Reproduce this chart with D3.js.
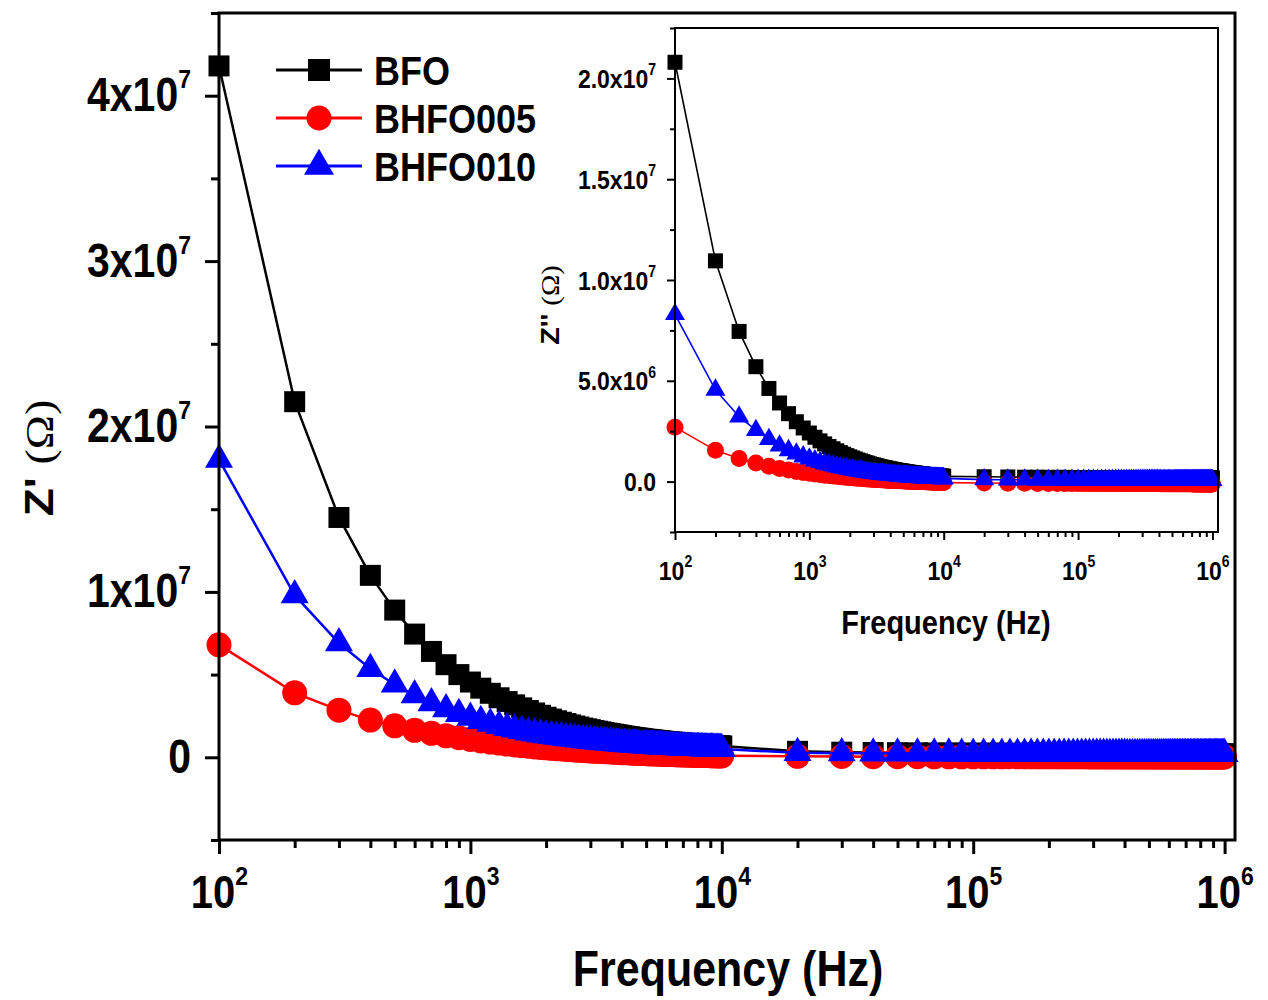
<!DOCTYPE html>
<html><head><meta charset="utf-8">
<script src="https://cdn.jsdelivr.net/npm/d3@7"></script>
<style>
body{margin:0;background:#fff}
text{font-family:"Liberation Sans",Arial,sans-serif;font-weight:bold;fill:#000}
</style>
</head><body>
<svg id="c" width="1268" height="1000"></svg>
<script>
// Frequencies (Hz)
const freq = [
100,200,300,400,500,600,700,800,900,1000,
1100,1200,1300,1400,1500,1600,1700,1800,1900,2000,
2100,2200,2300,2400,2500,2600,2700,2800,2900,3000,
3100,3200,3300,3400,3500,3600,3700,3800,3900,4000,
4100,4200,4300,4400,4500,4600,4700,4800,4900,5000,
5100,5200,5300,5400,5500,5600,5700,5800,5900,6000,
6100,6200,6300,6400,6500,6600,6700,6800,6900,7000,
7100,7200,7300,7400,7500,7600,7700,7800,7900,8000,
8100,8200,8300,8400,8500,8600,8700,8800,8900,9000,
9100,9200,9300,9400,9500,9600,9700,9800,9900,10000,
20000,30000,40000,50000,60000,70000,80000,90000,100000,
110000,120000,130000,140000,150000,160000,170000,180000,190000,200000,
210000,220000,230000,240000,250000,260000,270000,280000,290000,300000,
310000,320000,330000,340000,350000,360000,370000,380000,390000,400000,
410000,420000,430000,440000,450000,460000,470000,480000,490000,500000,
510000,520000,530000,540000,550000,560000,570000,580000,590000,600000,
610000,620000,630000,640000,650000,660000,670000,680000,690000,700000,
710000,720000,730000,740000,750000,760000,770000,780000,790000,800000,
810000,820000,830000,840000,850000,860000,870000,880000,890000,900000,
910000,920000,930000,940000,950000,960000,970000,980000,990000,1000000];

// Values in units of 1e4 Ohm
const UNIT = 1e4;
const seriesNames = ["BFO","BHFO005","BHFO010"];
const seriesColors = ["#000000","#ff0000","#0000ff"];
const seriesShapes = ["square","circle","triangle"];

// Z' (main plot)
const zReBFO = [
4180,2150,1450,1100,890,745,640,560,500,455,
418,387,360,337,317,299,283,268,254,242,
231,221,212,204,196,189,183,177,172,167,
162,158,154,150,146,143,140,137,134,131,
128,126,124,121,119,117,115,113,111,109,
108,106,105,103,102,100,99,98,96,95,
94,93,92,91,90,89,88,87,86,85,
84,84,83,82,81,81,80,79,79,78,
77,77,76,76,75,74,74,73,73,72,
72,71,71,70,70,69,69,69,68,68,
36,31,29,28,27,26,26,25,25,
25,25,25,24,24,24,24,24,24,24,
24,24,23,23,23,23,23,23,23,23,
23,23,23,23,23,22,22,22,22,22,
22,22,22,22,22,22,22,22,22,22,
22,21,21,21,21,21,21,21,21,21,
21,21,21,21,21,21,21,21,21,21,
21,21,20,20,20,20,20,20,20,20,
20,20,20,20,20,20,20,20,20,20,
20,20,20,20,20,20,20,20,20,20];
const zReBHFO005 = [
680,390,285,225,190,163,145,130,118,108,
99,92,86,80,75,71,67,63,60,57,
54,52,50,48,46,44,42,41,39,38,
37,36,35,34,33,32,31,30,29,28,
28,27,26,26,25,24,24,23,23,22,
22,21,21,20,20,20,19,19,18,18,
18,17,17,17,16,16,16,15,15,15,
15,14,14,14,14,13,13,13,13,12,
12,12,12,12,11,11,11,11,11,10,
10,10,10,10,10,9,9,9,9,9,
6,5,4,4,4,3,3,3,3,
3,3,3,3,3,3,3,3,3,3,
3,3,3,3,3,3,3,3,2,2,
2,2,2,2,2,2,2,2,2,2,
2,2,2,2,2,2,2,2,2,2,
2,2,2,2,2,2,2,2,2,2,
2,2,2,2,2,2,2,2,2,2,
2,2,2,2,2,2,2,2,2,2,
2,2,2,2,2,2,2,2,2,2,
2,2,2,2,2,2,2,2,2,2];
const zReBHFO010 = [
1800,980,690,535,440,375,328,291,262,239,
220,204,190,178,168,159,151,145,139,134,
129,125,121,117,114,111,108,105,102,100,
98,96,94,92,90,88,87,85,84,82,
81,80,79,78,77,76,75,74,73,72,
71,70,70,69,68,68,67,66,66,65,
65,64,64,63,63,62,62,61,61,60,
60,59,59,59,58,58,57,57,57,56,
56,56,55,55,55,54,54,54,53,53,
53,53,52,52,52,52,51,51,51,50,
27,25,24,24,23,23,23,22,22,
22,22,22,22,22,22,22,22,22,22,
22,22,22,22,22,22,22,22,22,22,
22,22,22,22,22,22,22,22,22,22,
21,21,21,21,21,21,21,21,21,21,
21,21,21,21,21,21,21,21,21,21,
21,21,21,21,21,21,21,21,21,21,
20,20,20,20,20,20,20,20,20,20,
20,20,20,20,20,20,20,20,20,20,
20,20,20,20,20,20,20,20,20,20];

// Z'' (inset)
const zImBFO = [
2080,1095,745,570,462,390,337,297,266,241,
220,202,187,174,163,153,144,136,129,123,
117,112,107,103,99,95,92,88,85,83,
80,78,75,73,71,69,68,66,64,63,
61,60,59,57,56,55,54,53,52,51,
50,49,48,47,46,46,45,44,43,43,
42,41,41,40,39,39,38,38,37,37,
36,36,35,35,34,34,33,33,33,32,
32,31,31,31,30,30,30,29,29,29,
28,28,28,27,27,27,27,26,26,26,
24,23,22,22,21,21,21,20,20,
20,20,20,20,20,20,20,20,20,20,
20,20,20,20,20,20,20,20,20,20,
20,20,20,20,20,20,20,20,20,20,
19,19,19,19,19,19,19,19,19,19,
19,19,19,19,19,19,19,19,19,19,
19,19,19,19,19,19,19,19,19,19,
18,18,18,18,18,18,18,18,18,18,
18,18,18,18,18,18,18,18,18,18,
18,18,18,18,18,18,18,18,18,18];
const zImBHFO005 = [
270,155,115,92,76,65,57,50,45,41,
38,35,32,30,28,26,24,23,21,20,
19,18,17,16,15,14,13,13,12,11,
11,10,10,9,9,8,8,7,7,7,
6,6,6,5,5,5,4,4,4,4,
3,3,3,3,2,2,2,2,2,1,
1,1,1,1,1,0,0,0,0,0,
0,0,-1,-1,-1,-1,-1,-1,-2,-2,
-2,-2,-2,-2,-2,-3,-3,-3,-3,-3,
-3,-3,-4,-4,-4,-4,-4,-4,-5,-5,
-7,-8,-8,-9,-9,-9,-10,-10,-10,
-10,-10,-10,-10,-10,-10,-10,-10,-10,-10,
-10,-10,-10,-10,-10,-10,-10,-10,-10,-10,
-10,-10,-10,-10,-10,-10,-10,-10,-10,-10,
-11,-11,-11,-11,-11,-11,-11,-11,-11,-11,
-11,-11,-11,-11,-11,-11,-11,-11,-11,-11,
-11,-11,-11,-11,-11,-11,-11,-11,-11,-11,
-12,-12,-12,-12,-12,-12,-12,-12,-12,-12,
-12,-12,-12,-12,-12,-12,-12,-12,-12,-12,
-12,-12,-12,-12,-12,-12,-12,-12,-12,-12];
const zImBHFO010 = [
830,455,322,255,210,178,155,138,124,113,
104,96,89,84,79,74,70,67,64,61,
58,56,54,52,50,48,47,45,44,43,
41,40,39,38,37,36,35,35,34,33,
32,32,31,30,30,29,29,28,28,27,
27,26,26,25,25,25,24,24,24,23,
23,23,22,22,22,22,21,21,21,21,
20,20,20,20,20,19,19,19,19,19,
19,18,18,18,18,18,18,18,17,17,
17,17,17,17,17,17,16,16,16,16,
10,9,9,8,8,8,8,8,8,
8,8,8,8,8,8,8,8,8,8,
8,8,8,8,8,8,8,8,8,8,
8,8,8,8,8,8,8,8,8,8,
7,7,7,7,7,7,7,7,7,7,
7,7,7,7,7,7,7,7,7,7,
7,7,7,7,7,7,7,7,7,7,
7,7,7,7,7,7,7,7,7,7,
7,7,7,7,7,7,7,7,7,7,
7,7,7,7,7,7,7,7,7,7];

// Axis ticks and labels
const xDomain = [100, 1.1e6];
const xTicks = [1e2,1e3,1e4,1e5,1e6];
const xTickLabels = ["10^2","10^3","10^4","10^5","10^6"];
const xMinor = [200,300,400,500,600,700,800,900,2000,3000,4000,5000,6000,7000,8000,9000,
  20000,30000,40000,50000,60000,70000,80000,90000,200000,300000,400000,500000,600000,700000,800000,900000];
const mainYDomain = [-5e6, 4.5e7];
const mainYTicks = [0,1e7,2e7,3e7,4e7];
const mainYLabels = ["0","1x10^7","2x10^7","3x10^7","4x10^7"];
const mainYMinor = [-5e6,5e6,1.5e7,2.5e7,3.5e7,4.5e7];
const insetYDomain = [-2.5e6, 2.25e7];
const insetYTicks = [0,5e6,1e7,1.5e7,2e7];
const insetYLabels = ["0.0","5.0x10^6","1.0x10^7","1.5x10^7","2.0x10^7"];
const insetYMinor = [-2.5e6,2.5e6,7.5e6,1.25e7,1.75e7,2.25e7];

const SY = 1.15; // vertical text stretch of the reference
const svg = d3.select("#c");

function symPath(shape, m){
  if(shape==="square") return d3.symbol(d3.symbolSquare, m.sq*m.sq)();
  if(shape==="circle") return d3.symbol(d3.symbolCircle, Math.PI*m.r*m.r)();
  return d3.symbol(d3.symbolTriangle, Math.sqrt(3)/4*m.tri*m.tri)();
}
function rich(sel, str, size, supSize, supDy){
  const parts = str.split("^");
  sel.text(null).attr("font-size", size);
  sel.append("tspan").text(parts[0]);
  if(parts.length>1) sel.append("tspan").attr("font-size", supSize).attr("dy", supDy).text(parts[1]);
}

function panel(cfg){
  const x = d3.scaleLog().domain(xDomain).range([cfg.l, cfg.r]);
  const y = d3.scaleLinear().domain(cfg.yDomain).range([cfg.b, cfg.t]);
  const g = svg.append("g");
  g.append("rect").attr("x",cfg.l).attr("y",cfg.t).attr("width",cfg.r-cfg.l).attr("height",cfg.b-cfg.t)
    .attr("fill","#fff");
  cfg.series.forEach((vals, k) => {
    const pts = freq.map((f,i)=>[f, vals[i]*UNIT]);
    g.append("path").datum(pts)
      .attr("d", d3.line().x(d=>x(d[0])).y(d=>y(d[1])))
      .attr("fill","none").attr("stroke",seriesColors[k]).attr("stroke-width",cfg.lw);
    const p = symPath(seriesShapes[k], cfg.ms);
    g.append("g").selectAll("path").data(pts).join("path")
      .attr("transform", d=>`translate(${x(d[0])},${y(d[1])})`)
      .attr("d", p).attr("fill", seriesColors[k]);
  });
  // x axis
  const gx = g.append("g").attr("transform",`translate(0,${cfg.b})`)
    .call(d3.axisBottom(x).tickValues(xTicks).tickSize(cfg.major).tickSizeOuter(0).tickFormat((d,i)=>xTickLabels[i]));
  g.append("g").attr("transform",`translate(0,${cfg.b})`)
    .call(d3.axisBottom(x).tickValues(xMinor).tickSize(cfg.minor).tickSizeOuter(0).tickFormat(""));
  gx.selectAll(".tick text").each(function(d,i){
    const t = d3.select(this);
    t.attr("y",null).attr("dy",null)
      .attr("transform",`translate(0,${cfg.xLabBase}) scale(1,${SY})`);
    rich(t, xTickLabels[i], cfg.xFont, cfg.supFont, cfg.xSupDy);
  });
  // y axis
  const gy = g.append("g").attr("transform",`translate(${cfg.l},0)`)
    .call(d3.axisLeft(y).tickValues(cfg.yTicks).tickSize(cfg.major).tickSizeOuter(0).tickFormat((d,i)=>cfg.yLabels[i]));
  g.append("g").attr("transform",`translate(${cfg.l},0)`)
    .call(d3.axisLeft(y).tickValues(cfg.yMinor).tickSize(cfg.minor).tickSizeOuter(0).tickFormat(""));
  gy.selectAll(".tick text").each(function(d,i){
    const t = d3.select(this);
    t.attr("x",null).attr("dy",null)
      .attr("transform",`translate(${cfg.yLabX},${cfg.yLabDy}) scale(1,${SY})`);
    rich(t, cfg.yLabels[i], cfg.yFont, cfg.supFont, cfg.ySupDy);
  });
  g.selectAll(".domain").remove();
  g.selectAll(".tick line").attr("stroke","#000").attr("stroke-width",cfg.tw);
  g.selectAll("g").attr("font-family",null).attr("font-size",null);
  g.append("rect").attr("x",cfg.l).attr("y",cfg.t).attr("width",cfg.r-cfg.l).attr("height",cfg.b-cfg.t)
    .attr("fill","none").attr("stroke","#000").attr("stroke-width",cfg.fw);
  // titles
  g.append("text").attr("text-anchor","middle").attr("font-size",cfg.xTitleFont)
    .attr("transform",`translate(${cfg.xTitleX},${cfg.xTitleY}) scale(1,${SY})`)
    .text("Frequency (Hz)");
  const yt = g.append("text").attr("text-anchor","middle").attr("font-size",cfg.yTitleFont)
    .attr("transform",`translate(${cfg.yTitleX},${cfg.yTitleY}) scale(1,${SY}) rotate(-90)`);
  yt.append("tspan").text(cfg.yTitle + " ");
  yt.append("tspan").attr("font-family","'Liberation Serif',serif").attr("font-weight","normal").text("(\u03A9)");
  return {x,y};
}

// Main plot
panel({
  l:219, r:1235, t:13, b:840, yDomain:mainYDomain,
  yTicks:mainYTicks, yLabels:mainYLabels, yMinor:mainYMinor,
  series:[zReBFO, zReBHFO005, zReBHFO010],
  lw:2.5, ms:{sq:21, r:12.5, tri:28},
  major:14, minor:8, tw:3, fw:3,
  xFont:40, supFont:23, xLabBase:68, xSupDy:-20,
  yFont:41, yLabX:-28, yLabDy:15, ySupDy:-20,
  xTitleFont:43, xTitleX:728, xTitleY:986,
  yTitleFont:40, yTitleX:53, yTitleY:458, yTitle:"Z'"
});

// Inset
panel({
  l:675, r:1218, t:28, b:532, yDomain:insetYDomain,
  yTicks:insetYTicks, yLabels:insetYLabels, yMinor:insetYMinor,
  series:[zImBFO, zImBHFO005, zImBHFO010],
  lw:1.6, ms:{sq:15, r:8.5, tri:20},
  major:8, minor:5, tw:2, fw:2,
  xFont:23, supFont:14, xLabBase:48, xSupDy:-11,
  yFont:23, yLabX:-19, yLabDy:9, ySupDy:-11,
  xTitleFont:29, xTitleX:946, xTitleY:634,
  yTitleFont:25, yTitleX:559, yTitleY:305, yTitle:"Z''"
});

// Legend
const legY = [70,118,166];
const leg = svg.append("g");
seriesNames.forEach((name,k)=>{
  leg.append("line").attr("x1",276).attr("x2",362).attr("y1",legY[k]).attr("y2",legY[k])
    .attr("stroke",seriesColors[k]).attr("stroke-width",3);
  leg.append("path").attr("transform",`translate(319,${legY[k]})`)
    .attr("d", symPath(seriesShapes[k], {sq:22, r:12.5, tri:30})).attr("fill",seriesColors[k]);
  leg.append("text").attr("font-size",36)
    .attr("transform",`translate(374,${legY[k]+15}) scale(1,${SY})`).text(name);
});
</script>
</body></html>
